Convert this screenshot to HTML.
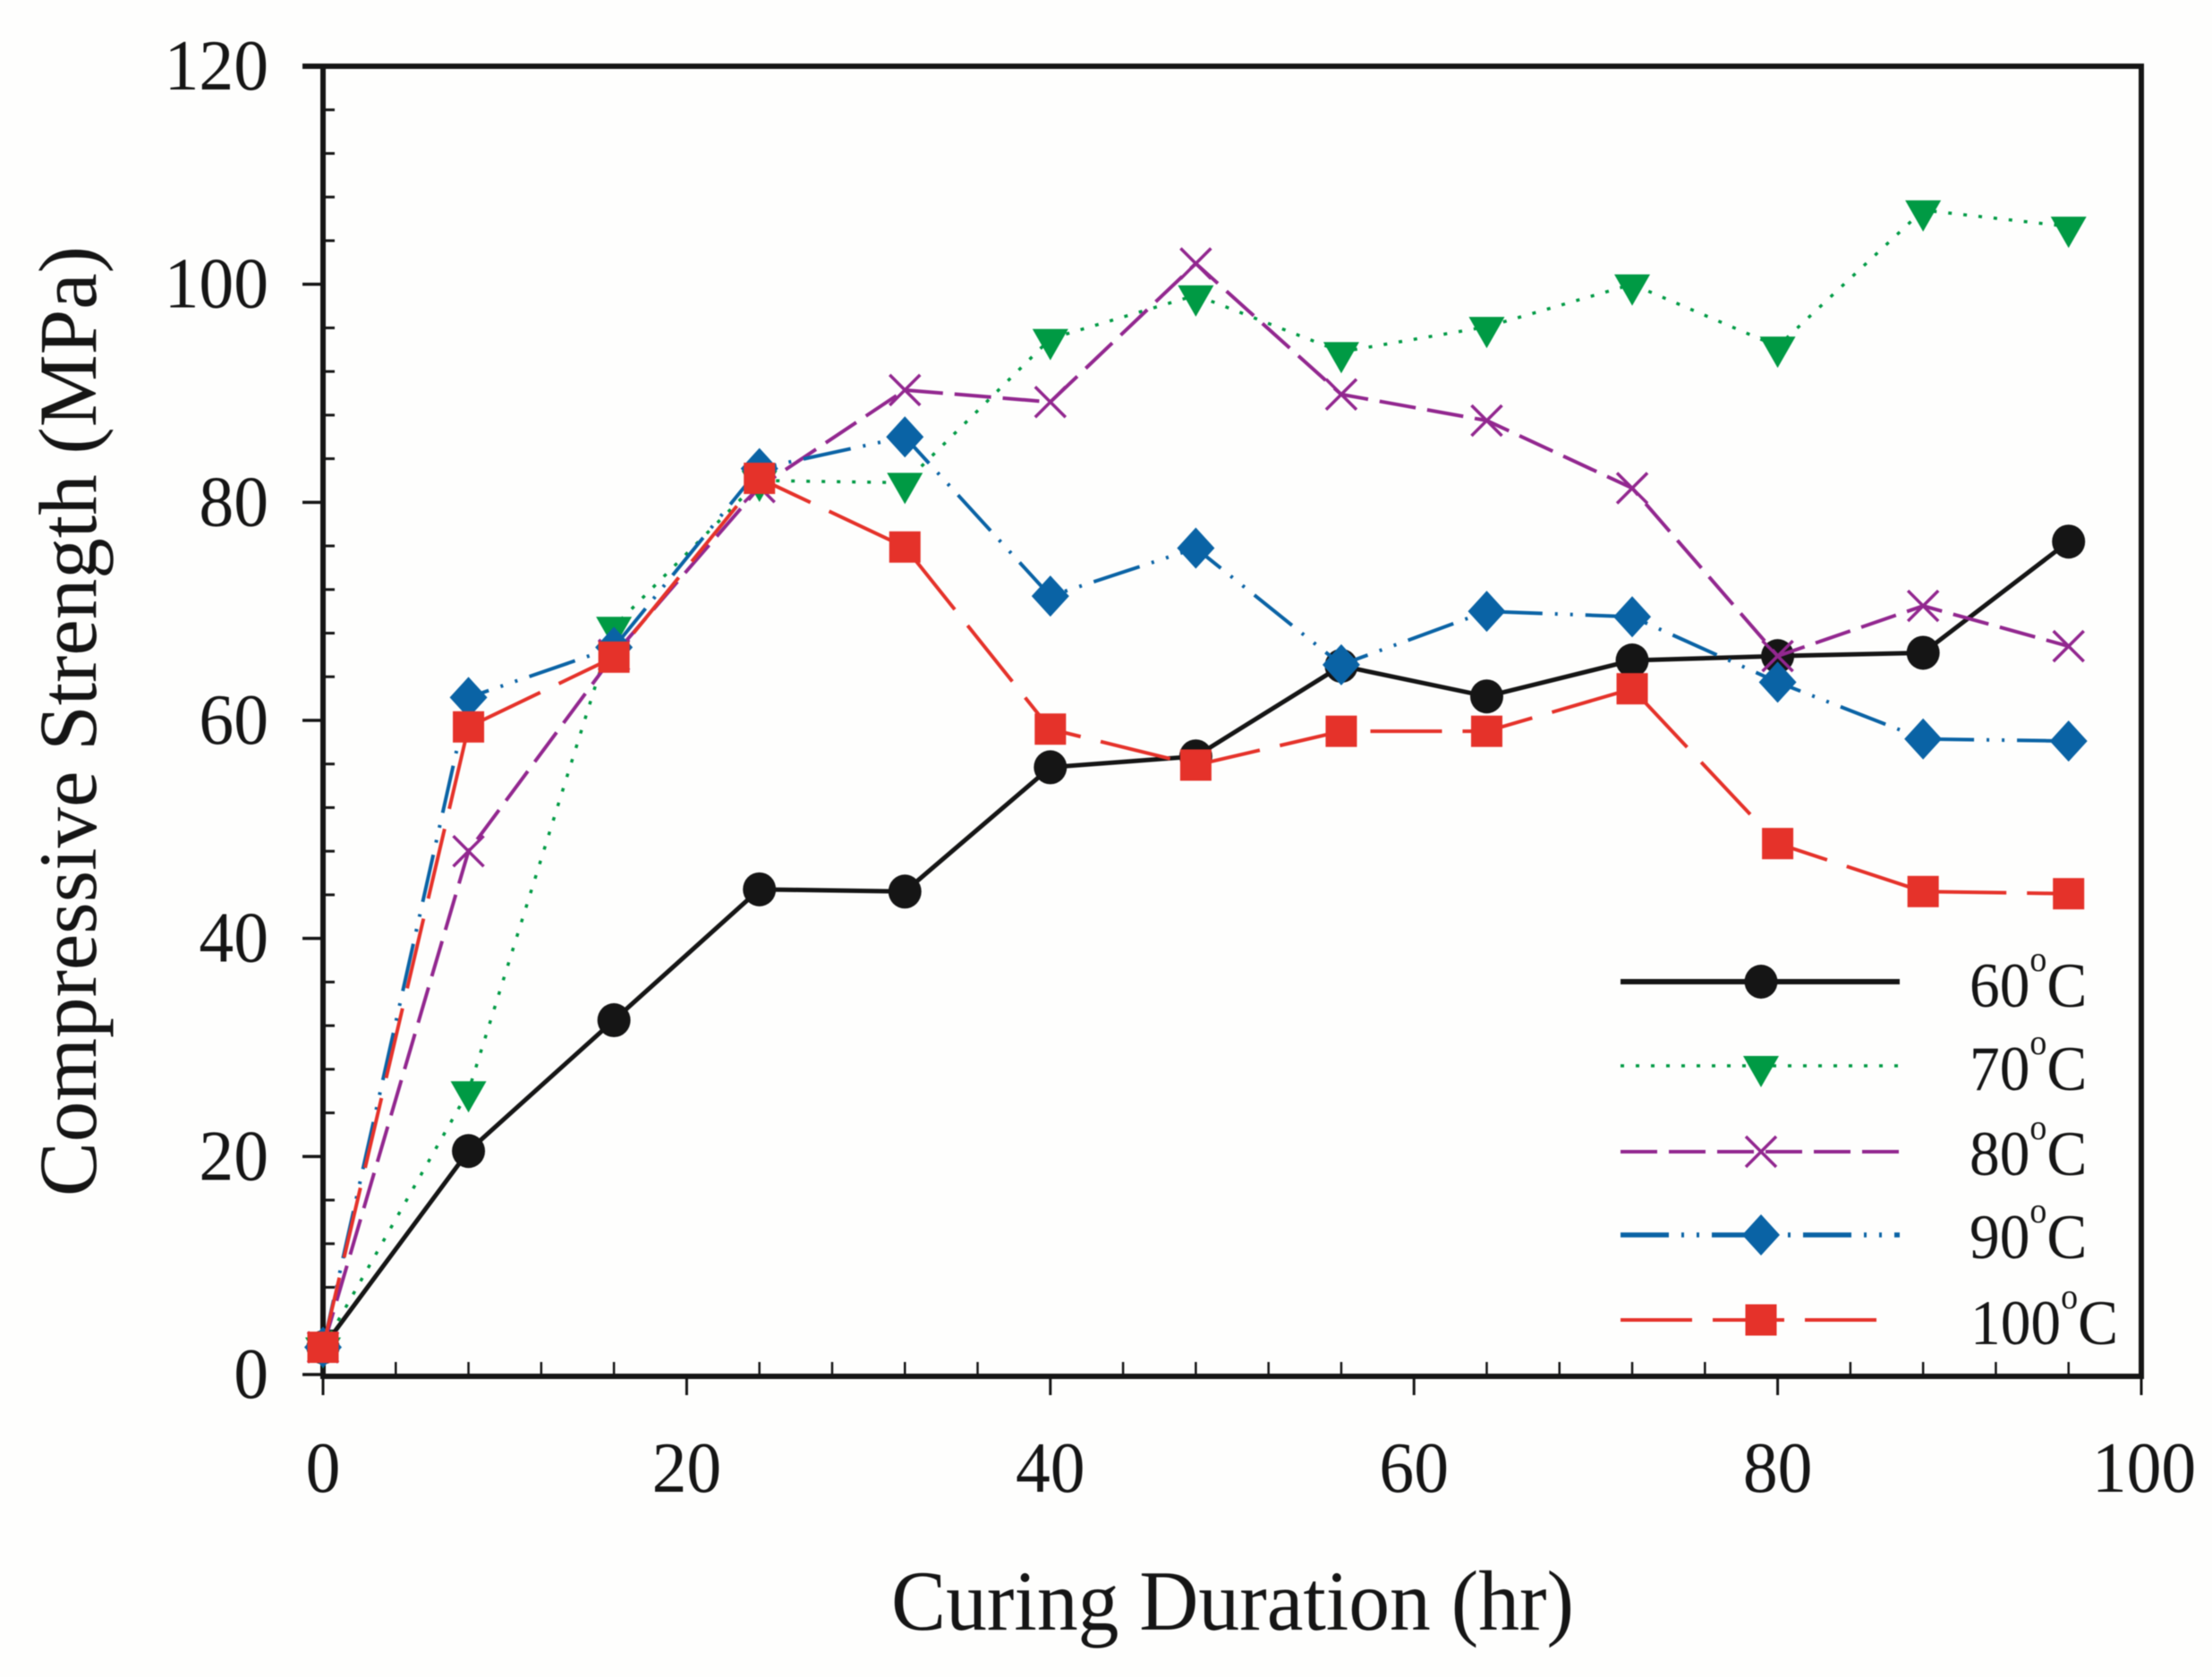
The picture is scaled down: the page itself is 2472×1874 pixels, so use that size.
<!DOCTYPE html>
<html lang="en">
<head>
<meta charset="utf-8">
<title>Compressive Strength vs Curing Duration</title>
<style>
html,body{margin:0;padding:0;background:#fefefd;}
svg{display:block;filter:blur(0.6px);}
text{font-family:"Liberation Serif","Times New Roman",serif;fill:#151515;}
</style>
</head>
<body>
<svg id="chart" xmlns="http://www.w3.org/2000/svg" width="2472" height="1874" viewBox="0 0 2472 1874">
  <rect x="0" y="0" width="2472" height="1874" fill="#fefefd"/>
  <g id="axes"></g>
  <g id="series"></g>
  <g id="legend"></g>
  <text x="996" y="1821" font-size="95" textLength="763" lengthAdjust="spacingAndGlyphs">Curing Duration (hr)</text>
  <text transform="translate(107,1337) rotate(-90)" x="0" y="0" font-size="92" textLength="1062" lengthAdjust="spacingAndGlyphs">Compressive Strength (MPa)</text>
</svg>
<script>
const durations = [0, 8, 16, 24, 32, 40, 48, 56, 64, 72, 80, 88, 96];
const strength60 = [2.5, 20.5, 32.5, 44.5, 44.3, 55.7, 56.7, 65.0, 62.2, 65.5, 65.9, 66.2, 76.4];
const strength70 = [2.5, 26.0, 68.6, 82.0, 81.8, 95.0, 99.0, 93.8, 96.1, 100.0, 94.3, 106.8, 105.3];
const strength80 = [2.5, 48.0, 66.0, 81.4, 90.3, 89.2, 101.9, 89.9, 87.5, 81.3, 65.9, 70.5, 66.8];
const strength90 = [2.5, 62.1, 66.7, 83.1, 86.0, 71.4, 75.8, 65.1, 70.0, 69.5, 63.5, 58.3, 58.1];
const strength100 = [2.5, 59.4, 65.8, 82.2, 75.9, 59.2, 55.9, 59.0, 59.0, 62.9, 48.7, 44.3, 44.1];
const xTickLabels = [0, 20, 40, 60, 80, 100];
const yTickLabels = [0, 20, 40, 60, 80, 100, 120];
const xMinorTicks = [4, 8, 12, 16, 24, 28, 32, 36, 44, 48, 52, 56, 64, 68, 72, 76, 84, 88, 92, 96];
const yMinorTicks = [4, 8, 12, 16, 24, 28, 32, 36, 44, 48, 52, 56, 64, 68, 72, 76, 84, 88, 92, 96, 104, 108, 112, 116];
const seriesNames = ["60", "70", "80", "90", "100"];

const NS = "http://www.w3.org/2000/svg";
const INK = "#151515";
const plot = {left: 361, right: 2393, top: 74, bottom: 1536};
const xScale = v => plot.left + v / 100 * (plot.right - plot.left);
const yScale = v => plot.bottom - v / 120 * (plot.bottom - plot.top);
const axes = document.getElementById("axes");
const seriesLayer = document.getElementById("series");
const legend = document.getElementById("legend");

function make(tag, parent, props) {
  const el = document.createElementNS(NS, tag);
  for (const k in props) el.setAttribute(k, props[k]);
  parent.appendChild(el);
  return el;
}

const styles = [
  {values: strength60, color: "#151515", width: 5, legendWidth: 6, dash: "", marker: "circle", legendEnd: 2123},
  {values: strength70, color: "#009a44", width: 3.5, legendWidth: 3.5, dash: "4 13", marker: "triangle", legendEnd: 2123},
  {values: strength80, color: "#92278f", width: 4, legendWidth: 4, dash: "41 13", marker: "cross", legendEnd: 2123},
  {values: strength90, color: "#0a63a5", width: 4, legendWidth: 5.5, dash: "54 14 3 14 3 14", marker: "diamond", legendEnd: 2123},
  {values: strength100, color: "#e5322a", width: 4, legendWidth: 4, dash: "80 23", marker: "square", legendEnd: 2098}
];

function drawMarker(parent, kind, cx, cy, color) {
  let m;
  if (kind === "circle") {
    m = make("ellipse", parent, {cx: cx, cy: cy, rx: 18.5, ry: 19, fill: color});
  } else if (kind === "triangle") {
    m = make("polygon", parent, {points: [cx - 20, cy - 11, cx + 20, cy - 11, cx, cy + 24].join(" "), fill: color});
  } else if (kind === "cross") {
    m = make("path", parent, {d: "M" + (cx - 17) + " " + (cy - 17) + "L" + (cx + 17) + " " + (cy + 17) + "M" + (cx - 17) + " " + (cy + 17) + "L" + (cx + 17) + " " + (cy - 17), stroke: color, "stroke-width": 3.5, fill: "none"});
  } else if (kind === "diamond") {
    m = make("polygon", parent, {points: [cx, cy - 23, cx + 21, cy, cx, cy + 23, cx - 21, cy].join(" "), fill: color});
  } else {
    m = make("rect", parent, {x: cx - 17.5, y: cy - 17.5, width: 35, height: 35, fill: color});
  }
  return m;
}

function tickText(parent, label, x, y, anchor) {
  const t = make("text", parent, {"font-size": 80, "text-anchor": anchor, transform: "translate(" + x + "," + y + ") scale(0.97,1)"});
  t.textContent = label;
  return t;
}

/* frame */
const frame = make("path", axes, {d: "M" + (plot.left - 23) + " " + plot.top + "H" + plot.right + "V" + (plot.bottom + 2) + "H" + plot.left + "V" + plot.top, fill: "none", stroke: INK, "stroke-width": 6});



/* y ticks */
yTickLabels.forEach(v => {
  const py = yScale(v);
  const tick = make("line", axes, {x1: plot.left - 23, x2: plot.left, y1: py, y2: py, stroke: INK, "stroke-width": 3.5});
  
  
  const label = tickText(axes, v, 300, py + 26, "end");
  
  
});
yMinorTicks.forEach(v => {
  const py = yScale(v);
  const tick = make("line", axes, {x1: plot.left, x2: plot.left + 13, y1: py, y2: py, stroke: INK, "stroke-width": 3});
  
  
});

/* x ticks */
xTickLabels.forEach(v => {
  const px = xScale(v);
  const tick = make("line", axes, {x1: px, x2: px, y1: plot.bottom, y2: plot.bottom + 23, stroke: INK, "stroke-width": 3});
  
  
  const label = tickText(axes, v, px + (v === 100 ? 3 : 0), 1667, "middle");
  
  
});
xMinorTicks.forEach(v => {
  const px = xScale(v);
  const tick = make("line", axes, {x1: px, x2: px, y1: plot.bottom - 14, y2: plot.bottom, stroke: INK, "stroke-width": 2.5});
  
  
});

/* series */
styles.forEach((s, i) => {
  const g = make("g", seriesLayer, {});
  
  
  const pts = s.values.map((v, j) => xScale(durations[j]) + "," + yScale(v)).join(" ");
  const line = make("polyline", g, {points: pts, fill: "none", stroke: s.color, "stroke-width": s.width});
  if (s.dash) line.setAttribute("stroke-dasharray", s.dash);
  
  
  s.values.forEach((v, j) => {
    const m = drawMarker(g, s.marker, xScale(durations[j]), yScale(v), s.color);
    
    
  });
});

/* legend */
const legendRows = [1097, 1191, 1287, 1380, 1475];
const legendBaselines = [1125, 1218, 1313, 1406, 1502];
const legendTextX = [2201, 2201, 2201, 2201, 2202];
styles.forEach((s, i) => {
  const g = make("g", legend, {});
  
  
  const rowY = legendRows[i];
  const line = make("line", g, {x1: 1811, x2: s.legendEnd, y1: rowY, y2: rowY, stroke: s.color, "stroke-width": s.legendWidth});
  if (s.dash) line.setAttribute("stroke-dasharray", s.dash);
  
  
  const m = drawMarker(g, s.marker, 1968, rowY, s.color);
  
  
  const t = make("text", g, {"font-size": 71, transform: "translate(" + legendTextX[i] + "," + legendBaselines[i] + ") scale(0.95,1)"});
  
  
  const a = make("tspan", t, {});
  a.textContent = seriesNames[i];
  const b = make("tspan", t, {"font-size": 40, dy: -40});
  b.textContent = "o";
  const c = make("tspan", t, {dy: 40});
  c.textContent = "C";
});
</script>
</body>
</html>
